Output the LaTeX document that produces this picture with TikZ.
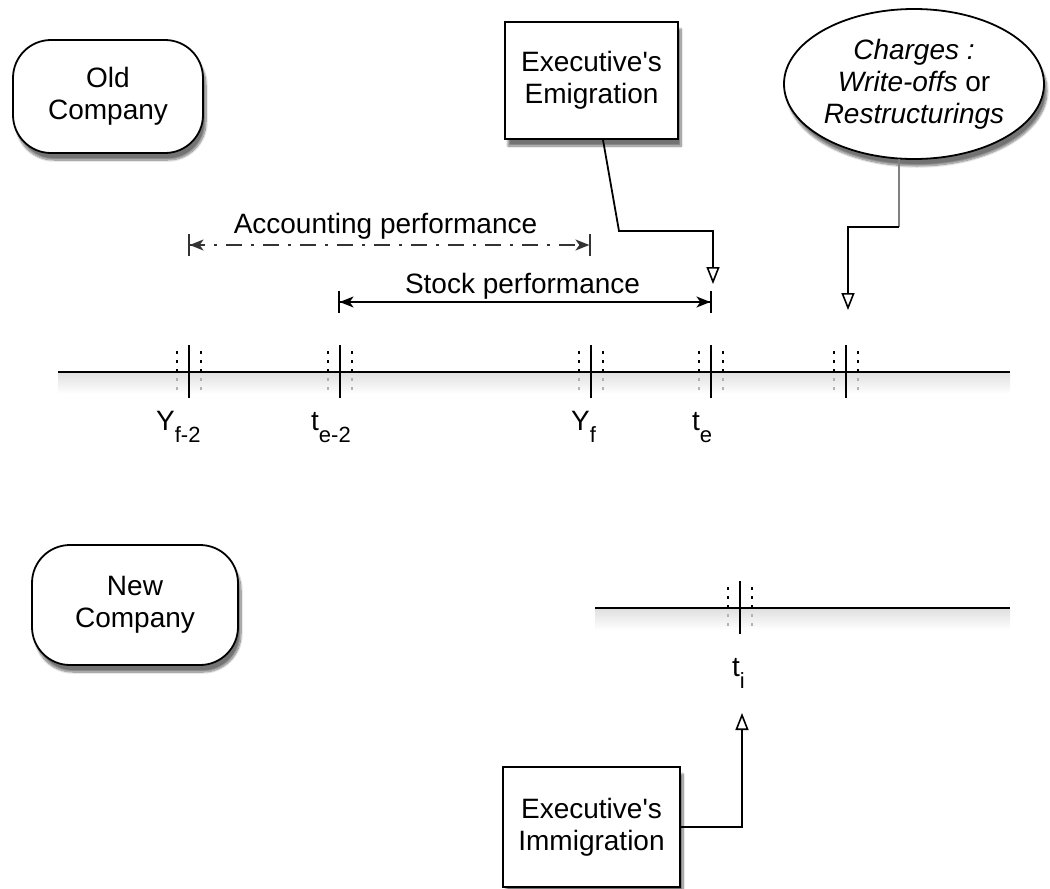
\documentclass[tikz,border=0pt]{standalone}
\usepackage{fontspec}
\setmainfont{Liberation Sans}[Ligatures=TeXOff]
\usetikzlibrary{arrows.meta,shapes.geometric,shadows.blur,calc}
\newcommand{\subsc}[1]{\raisebox{-12pt}{\fontsize{22}{22}\selectfont #1}}
\begin{document}
\begin{tikzpicture}[x=1pt,y=-1pt,
  txt/.style={font=\fontsize{28}{32}\selectfont, align=center},
  shad/.style={blur shadow={shadow xshift=3pt, shadow yshift=-7pt, shadow blur steps=10, shadow opacity=55}},
  rbox/.style={txt, draw, line width=1.8pt, rounded corners=38pt, fill=white, inner sep=0pt, shad},
  sqbox/.style={txt, draw, line width=1.8pt, fill=white, inner sep=0pt, shad},
  ell/.style={txt, ellipse, draw, line width=1.8pt, fill=white, inner sep=0pt, shad},
  oarrow/.style={line width=1.8pt, -{Triangle[open, length=17pt, width=13pt, line width=1.6pt, fill=white]}},
  dimline/.style={line width=1.6pt, {Bar[width=22pt, line width=1.6pt]Stealth[length=14pt, width=11pt, inset=4pt]}-{Stealth[length=14pt, width=11pt, inset=4pt]Bar[width=22pt, line width=1.6pt]}},
  tline/.style={line width=2pt},
  tshade/.style={top color=black!12, bottom color=white, draw=none},
  tmark/.pic={
    \draw[line width=2pt] (0,-27) -- (0,26);
    \draw[line width=2.2pt, dash pattern=on 3pt off 6pt] (-12,-21) -- (-12,4) (12,-21) -- (12,4);
    \draw[line width=2.2pt, gray!60, dash pattern=on 3pt off 6pt] (-12,6) -- (-12,21) (12,6) -- (12,21);
  },
  lab/.style={font=\fontsize{28}{32}\selectfont, anchor=base west, inner sep=0pt}
]
\useasboundingbox (0,0) rectangle (1050,889);

% timelines
\coordinate (tl1) at (58,372);
\coordinate (tl2) at (1010,372);
\coordinate (bl1) at (595,608);
\coordinate (bl2) at (1010,608);
\fill[tshade] (58,373) rectangle (1010,394);
\fill[tshade] (595,609) rectangle (1010,630);
\draw[tline] (tl1) -- (tl2);
\draw[tline] (bl1) -- (bl2);

% ticks
\coordinate (yf2) at (189,372);
\coordinate (te2) at (340,372);
\coordinate (yf) at (591,372);
\coordinate (te) at (711,372);
\coordinate (tc) at (846,372);
\coordinate (ti) at (740,608);
\foreach \n in {yf2,te2,yf,te,tc,ti} \pic at (\n) {tmark};

% tick labels
\node[lab] (lyf2) at (156,430) {Y\subsc{f-2}};
\node[lab] (lte2) at (311,430) {t\subsc{e-2}};
\node[lab] (lyf) at (571,430) {Y\subsc{f}};
\node[lab] (lte) at (692,430) {t\subsc{e}};
\node[lab] (lti) at (732,676) {t\subsc{i}};

% boxes
\node[rbox, minimum width=190pt, minimum height=113pt] (old) at (108,96.5) {Old\\Company};
\node[rbox, minimum width=206pt, minimum height=120pt] (new) at (135,605) {New\\Company};
\node[sqbox, minimum width=173pt, minimum height=117pt] (emig) at (591.5,80.5) {Executive's\\Emigration};
\node[sqbox, minimum width=177pt, minimum height=120pt] (immig) at (591.5,827) {Executive's\\Immigration};
\node[ell, minimum width=260pt, minimum height=150pt] (chg) at (914,84) {\textit{Charges :}\\\textit{Write-offs} or\\\textit{Restructurings}};

% performance spans
\coordinate (acL) at (188,245);
\coordinate (acR) at (591,245);
\coordinate (stL) at (338,302);
\coordinate (stR) at (712,302);
\draw[dimline, black!80, dash pattern=on 16pt off 9pt on 3pt off 9pt] (acL) -- (acR);
\draw[dimline] (stL) -- (stR);
\node[txt, anchor=base, inner sep=0pt] (acc) at (385.5,233) {Accounting performance};
\node[txt, anchor=base, inner sep=0pt] (stk) at (522.5,293) {Stock performance};

% connectors
\coordinate (emtip) at (713,284);
\coordinate (embend) at (619,231);
\draw[oarrow] ([xshift=11.5pt]emig.south) -- (embend) -| (emtip);

\coordinate (chbend) at (899,227);
\coordinate (chtip) at (848,310);
\draw[line width=1.8pt, black!50] ([xshift=-15pt,yshift=0.9pt]chg.south) -- (chbend);
\draw[oarrow] (chbend) -| (chtip);

\coordinate (imtip) at (742,713);
\draw[oarrow] (immig.east) -| (imtip);
\end{tikzpicture}
\end{document}
